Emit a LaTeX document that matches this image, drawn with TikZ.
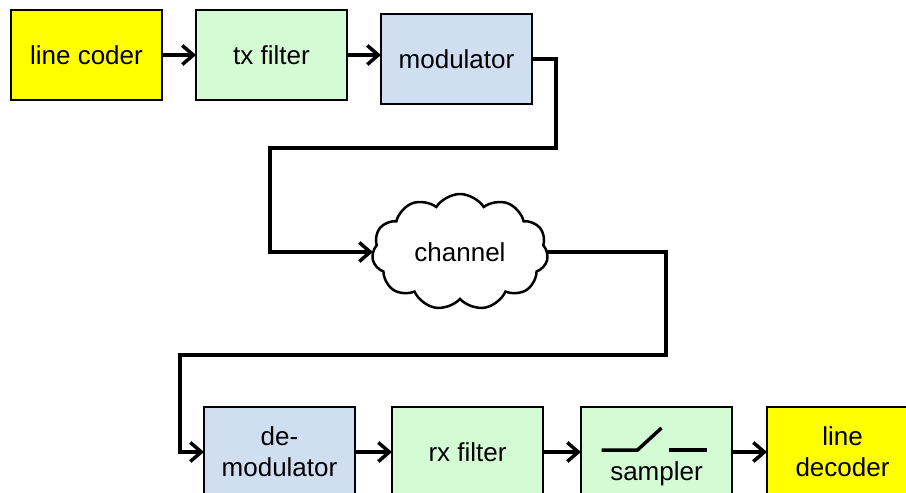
\documentclass[tikz,border=0pt]{standalone}
\usepackage{fontspec}
\setmainfont{Liberation Sans}
\usetikzlibrary{arrows.meta,positioning,shapes.symbols}

\definecolor{coderyellow}{RGB}{255,255,0}
\definecolor{filtergreen}{RGB}{212,252,212}
\definecolor{modblue}{RGB}{207,223,241}

\begin{document}
\begin{tikzpicture}[
x=1pt, y=-1pt,
font=\fontsize{26}{31}\selectfont,
box/.style={draw, rectangle, line width=2.5pt, outer sep=0pt, minimum width=151pt, minimum height=90pt, align=center},
yellowbox/.style={box, fill=coderyellow},
greenbox/.style={box, fill=filtergreen},
bluebox/.style={box, fill=modblue},
arrow/.style={-{Straight Barb[length=11pt, width=19pt]}, line width=3.5pt}
]
\useasboundingbox (0,0) rectangle (906,493);
\clip (0,0) rectangle (906,493);

% transmitter
\node[yellowbox] (coder) at (86.5,55) {line coder};
\node[greenbox, right=34pt of coder] (txf) {tx filter};
\node[bluebox, right=34pt of txf, yshift=-4pt] (mod) {modulator};

% channel
\node[cloud, draw, fill=white, line width=2.5pt, outer sep=0pt, cloud puffs=11, cloud puff arc=115,
      aspect=1.6, minimum width=176pt, minimum height=116pt, inner sep=0pt] (chan) at (460,252) {channel};

% receiver
\node[bluebox] (demod) at (279.5,452) {de-\\modulator};
\node[greenbox, right=37pt of demod] (rxf) {rx filter};
\node[greenbox, right=38pt of rxf] (samp) {};
\node[yellowbox, right=35pt of samp] (decoder) {line\\decoder};
\node (samptext) at ([yshift=-22pt]samp.center) {sampler};

% switch
\draw[line width=3.5pt] ([shift={(-55pt,2pt)}]samp.center) -- ([shift={(-19pt,2pt)}]samp.center)
  -- ([shift={(5pt,24pt)}]samp.center);
\draw[line width=3.5pt] ([shift={(12pt,2pt)}]samp.center) -- ([shift={(50pt,2pt)}]samp.center);

\coordinate (bendA) at (270,148);
\coordinate (bendB) at (666,355);
\coordinate (bendC) at (180,355);

\draw[arrow] (coder) -- (txf);
\draw[arrow] (txf.east) -- (txf.east -| mod.west);
\draw[arrow] (mod.east) -- ++(24,0) |- (bendA) |- (chan.west);
\draw[arrow] (chan.east) -| (bendB) -- (bendC) |- (demod.west);
\draw[arrow] (demod) -- (rxf);
\draw[arrow] (rxf) -- (samp);
\draw[arrow] (samp) -- (decoder);

\end{tikzpicture}
\end{document}
